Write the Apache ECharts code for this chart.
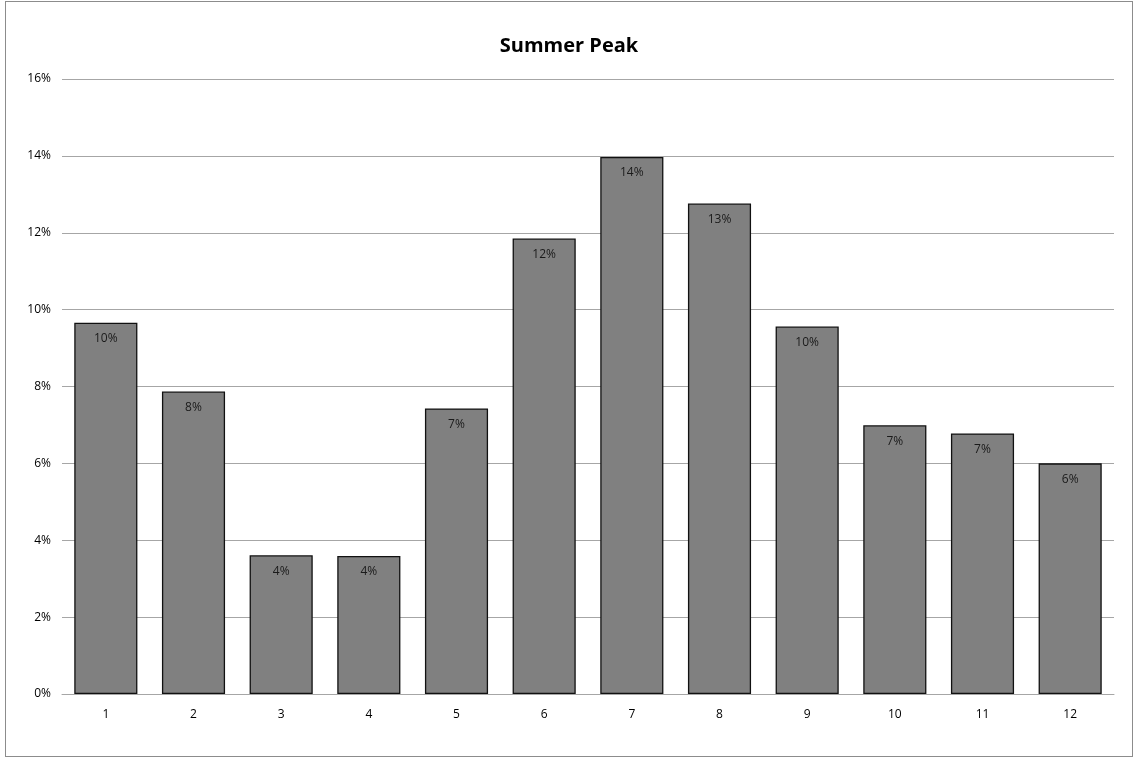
<!DOCTYPE html>
<html><head><meta charset="utf-8">
<script src="https://cdn.jsdelivr.net/npm/echarts@6/dist/echarts.min.js"></script>
<style>html,body{margin:0;padding:0;background:#fff}#wrap{position:absolute;left:5px;top:1px;width:1128px;height:756px;border:1px solid #8c8c8c;box-sizing:border-box}#c{width:100%;height:100%}</style>
</head><body><div id="wrap"><div id="c"></div></div>
<script>
const categories = ['1','2','3','4','5','6','7','8','9','10','11','12'];
const values = [9.66, 7.87, 3.61, 3.59, 7.43, 11.85, 13.97, 12.76, 9.56, 6.99, 6.78, 6.0];
const yTicks = [0, 2, 4, 6, 8, 10, 12, 14, 16];
const chart = echarts.init(document.getElementById('c'));
const font = '"Open Sans", "Liberation Sans", sans-serif';
chart.setOption({
  animation: false,
  title: { text: 'Summer Peak', left: 'center', top: 29,
    textStyle: { fontFamily: font, fontSize: 20, fontWeight: 'bold', color: '#000' } },
  grid: { left: 56, right: 18, top: 77, bottom: 62 },
  xAxis: { type: 'category', data: categories,
    axisLine: { lineStyle: { color: '#a6a6a6', width: 1 } },
    axisTick: { show: false },
    axisLabel: { fontFamily: font, fontSize: 12, color: '#000', margin: 15 } },
  yAxis: { type: 'value', min: yTicks[0], max: yTicks[yTicks.length-1], interval: 2,
    axisLine: { show: false }, axisTick: { show: false },
    splitLine: { lineStyle: { color: '#a6a6a6', width: 1 } },
    axisLabel: { fontFamily: font, fontSize: 12, color: '#000', margin: 11, formatter: v => v + '%' } },
  series: [{ type: 'bar', data: values, barCategoryGap: '28%',
    itemStyle: { color: '#808080', borderColor: '#111', borderWidth: 1.3 },
    label: { show: true, position: 'insideTop', distance: 10, fontFamily: font, fontSize: 12, color: '#1a1a1a',
      formatter: p => Math.round(p.value) + '%' } }]
});
</script></body></html>
